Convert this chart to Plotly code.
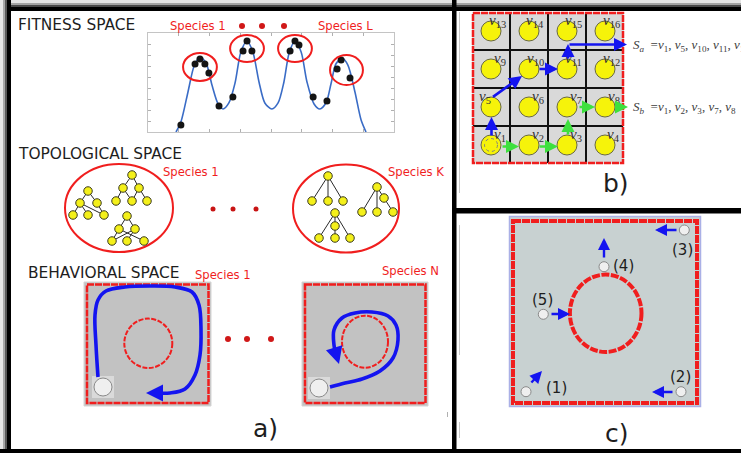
import plotly.graph_objects as go

W, H = 741, 453

# ---------------- fitness landscape (axis units: x 0..8, y 0..9) ----------------
FIT_CURVE_X = [0.91, 1.07, 1.30, 1.50, 1.69, 1.89, 2.08, 2.28, 2.44, 2.63, 2.83, 3.02,
               3.22, 3.41, 3.61, 3.80, 4.03, 4.23, 4.42, 4.59, 4.78, 4.98, 5.17, 5.40,
               5.59, 5.79, 5.95, 6.11, 6.31, 6.50, 6.73, 6.93, 7.09]
FIT_CURVE_Y = [0.00, 0.91, 3.64, 6.00, 6.82, 6.27, 4.27, 2.55, 2.09, 2.64, 4.45, 7.27,
               8.27, 7.27, 4.55, 2.64, 2.09, 2.64, 4.55, 7.18, 8.27, 7.27, 4.55, 2.55,
               2.09, 2.64, 4.36, 6.18, 6.73, 6.09, 3.64, 1.09, 0.00]
FIT_POP_X = [1.07, 1.53, 1.69, 1.85, 1.98, 2.31, 2.76, 3.09, 3.22, 3.38,
             4.62, 4.78, 4.91, 5.37, 5.82, 6.15, 6.28, 6.57]
FIT_POP_Y = [0.64, 6.18, 6.64, 6.18, 5.36, 2.36, 3.18, 7.36, 8.27, 7.36,
             7.36, 8.27, 7.91, 3.18, 2.82, 5.73, 6.55, 4.91]
# species clusters (x0, x1, y0, y1)
FIT_SPECIES = [(1.14, 2.24, 4.64, 7.18), (2.67, 3.77, 6.36, 8.82),
               (4.23, 5.33, 6.36, 8.82), (5.92, 6.99, 4.27, 7.00)]

# ---------------- topological space: small trees ----------------
TREES = [
    {"nodes": [(88, 191), (80, 203), (97, 203), (73, 215), (88, 215), (104, 215)],
     "edges": [(0, 1), (0, 2), (1, 3), (1, 4), (1, 5), (2, 5)]},
    {"nodes": [(132, 175), (123, 188), (139, 188), (116, 201), (132, 201), (147, 201)],
     "edges": [(0, 1), (0, 2), (1, 3), (1, 4), (2, 4), (2, 5)]},
    {"nodes": [(127, 216), (119, 229), (135, 229), (112, 241), (127, 241), (144, 241)],
     "edges": [(0, 1), (0, 2), (1, 3), (1, 5), (2, 3), (2, 4)]},
    {"nodes": [(328, 176), (312, 201), (328, 201), (343, 201)],
     "edges": [(0, 1), (0, 2), (0, 3)]},
    {"nodes": [(377, 187), (362, 212), (377, 212), (384, 198), (393, 212)],
     "edges": [(0, 1), (0, 2), (0, 3), (3, 4)]},
    {"nodes": [(335, 213), (335, 226), (319, 238), (335, 238), (350, 238)],
     "edges": [(0, 1), (0, 2), (1, 3), (0, 4)]},
]

# ---------------- behavioral space: robot trajectories ----------------
PATH1_X = [98, 96, 95, 98, 106, 125, 150, 175, 192, 199, 201, 200, 195, 185, 170, 156]
PATH1_Y = [377, 345, 315, 300, 291, 287, 286, 287, 292, 305, 330, 355, 375, 389, 393, 393]
PATH2_X = [330, 345, 362, 380, 393, 398, 396, 388, 372, 355, 342, 334, 334, 336]
PATH2_Y = [387, 383, 379, 371, 358, 340, 325, 316, 312, 313, 318, 330, 345, 356]

# ---------------- grid maze ----------------
GRID_LABELS = [[13, 14, 15, 16], [9, 10, 11, 12], [5, 6, 7, 8], [1, 2, 3, 4]]
SEQ_A = [1, 5, 10, 11, 15]
SEQ_B = [1, 2, 3, 7, 8]

# ---------------- hard maze: starting points ----------------
START_LABELS = ["(1)", "(2)", "(3)", "(4)", "(5)"]

RED = "#f01e1e"
BLUE = "#1414f0"
GREEN = "#3ee03e"
YELLOW = "#f4f01a"

shapes = []
annotations = []
traces = []


def rect(x0, y0, x1, y1, fill=None, lc=None, lw=0, dash=None, layer="below"):
    shapes.append(dict(type="rect", xref="x", yref="y", x0=x0, y0=y0, x1=x1, y1=y1,
                       fillcolor=fill or "rgba(0,0,0,0)",
                       line=dict(color=lc or "rgba(0,0,0,0)", width=lw, dash=dash or "solid"),
                       layer=layer))


def ellipse(cx, cy, rx, ry, lc, lw, fill=None, dash=None, xref="x", yref="y", layer="below"):
    shapes.append(dict(type="circle", xref=xref, yref=yref, x0=cx - rx, x1=cx + rx,
                       y0=cy - ry, y1=cy + ry, fillcolor=fill or "rgba(0,0,0,0)",
                       line=dict(color=lc, width=lw, dash=dash or "solid"), layer=layer))


def line(x0, y0, x1, y1, color, width, layer="below"):
    shapes.append(dict(type="line", xref="x", yref="y", x0=x0, y0=y0, x1=x1, y1=y1,
                       line=dict(color=color, width=width), layer=layer))


def text(x, y, s, size, color="#1e1e1e", anchor="left", family="DejaVu Sans"):
    annotations.append(dict(x=x, y=y, xref="x", yref="y", text=s, showarrow=False,
                            xanchor=anchor, yanchor="middle",
                            font=dict(family=family, size=size, color=color)))


def arrow(x0, y0, x1, y1, color, width, head=2):
    annotations.append(dict(x=x1, y=y1, ax=x0, ay=y0, xref="x", yref="y",
                            axref="x", ayref="y", text="", showarrow=True,
                            arrowhead=head, arrowsize=1, arrowwidth=width,
                            arrowcolor=color, standoff=0, startstandoff=0))


def dots(xs, ys, color, size):
    traces.append(go.Scatter(x=xs, y=ys, mode="markers", xaxis="x", yaxis="y",
                             marker=dict(color=color, size=size), hoverinfo="skip"))


def robot(cx, cy, r, pad=True):
    if pad:
        rect(cx - r - 2, cy - r - 2, cx + r + 2, cy + r + 2, fill="#dadada")
    ellipse(cx, cy, r, r, "#8a8a8a", 1, fill="#efefef")


# ---------------- frame ----------------
rect(0, 0, W, 3, fill="#e4e4e4")
rect(0, 3, W, 5, fill="#a4a4a4")
rect(0, 5, W, 7, fill="#4a4a4a")
rect(0, 7, W, 11, fill="#000000")
rect(0, 0, 3, H, fill="#e6e6e6")
rect(3, 0, 5, H, fill="#a8a8a8")
rect(5, 0, 7, H, fill="#5a5a5a")
rect(7, 0, 11, H, fill="#000000")
rect(0, 449, W, H, fill="#000000")
rect(452, 0, 456.5, H, fill="#000000")
rect(456, 208, W, 213.5, fill="#000000")
line(459.5, 12, 459.5, 193, "#c8c8c8", 1)
line(459.5, 225, 459.5, 355, "#c8c8c8", 1)
line(459.5, 422, 459.5, 438, "#c8c8c8", 1)
line(447.5, 412, 447.5, 417, "#b0b0b0", 1)

# ---------------- panel a: fitness ----------------
text(16, 25, "FITNESS SPACE", 15.4)
text(168, 26, "Species 1", 11.6, RED)
text(316, 26, "Species L", 11.6, RED)
dots([242, 262, 284], [26, 26, 26], "#d01818", 6)

traces.append(go.Scatter(x=FIT_CURVE_X, y=FIT_CURVE_Y, mode="lines", xaxis="x2", yaxis="y2",
                         line=dict(color="#3a6cc6", width=1.6, shape="spline", smoothing=0.8),
                         hoverinfo="skip"))
traces.append(go.Scatter(x=FIT_POP_X, y=FIT_POP_Y, mode="markers", xaxis="x2", yaxis="y2",
                         marker=dict(color="#141414", size=7), hoverinfo="skip"))
for (x0, x1, y0, y1) in FIT_SPECIES:
    shapes.append(dict(type="circle", xref="x2", yref="y2", x0=x0, x1=x1, y0=y0, y1=y1,
                       line=dict(color=RED, width=2), layer="above"))

# ---------------- panel a: topology ----------------
text(16, 154, "TOPOLOGICAL SPACE", 15.4)
text(161, 172, "Species 1", 11.6, RED)
text(386, 172, "Species K", 11.6, RED)
ellipse(119, 208, 54, 44, RED, 2)
ellipse(346, 208.5, 53, 44, RED, 2)
dots([213, 233, 256], [209, 209, 209], "#c81414", 5)
ex, ey, nx, ny = [], [], [], []
for t in TREES:
    for a, b in t["edges"]:
        ex += [t["nodes"][a][0], t["nodes"][b][0], None]
        ey += [t["nodes"][a][1], t["nodes"][b][1], None]
    nx += [p[0] for p in t["nodes"]]
    ny += [p[1] for p in t["nodes"]]
traces.append(go.Scatter(x=ex, y=ey, mode="lines", xaxis="x", yaxis="y",
                         line=dict(color="#2a2a2a", width=1), hoverinfo="skip"))
traces.append(go.Scatter(x=nx, y=ny, mode="markers", xaxis="x", yaxis="y",
                         marker=dict(color=YELLOW, size=8.5, line=dict(color="#3a3a20", width=1)),
                         hoverinfo="skip"))

# ---------------- panel a: behavior ----------------
text(26, 273, "BEHAVIORAL SPACE", 15.4)
text(193, 275, "Species 1", 11.6, RED)
text(380, 271, "Species N", 11.6, RED)
for (bx0, by0, bx1, by1, ccx, ccy, crx, cry) in [(84, 282, 211, 406, 148.3, 343.3, 24, 24.7),
                                              (302, 282, 428, 406, 365, 341.7, 23, 26)]:
    rect(bx0, by0, bx1, by1, fill="#c2c2c2", lc="#d4d4d4", lw=1)
    rect(bx0 + 3, by0 + 2.5, bx1 - 2.5, by1 - 3, lc=RED, lw=2.5, dash="7px,1px")
    ellipse(ccx, ccy, crx, cry, RED, 2, dash="5px,1.5px")
dots([228, 247, 271], [339, 339, 339], "#d01818", 6)
robot(103, 387, 9)
robot(319, 388, 9)
traces.append(go.Scatter(x=PATH1_X, y=PATH1_Y, mode="lines", xaxis="x", yaxis="y",
                         line=dict(color=BLUE, width=3.6, shape="spline"), hoverinfo="skip"))
traces.append(go.Scatter(x=PATH2_X, y=PATH2_Y, mode="lines", xaxis="x", yaxis="y",
                         line=dict(color=BLUE, width=3.6, shape="spline"), hoverinfo="skip"))
arrow(157, 393, 146, 393, BLUE, 3.4)
arrow(336, 354, 339, 364, BLUE, 3.4)
text(265, 428, "a)", 25, anchor="center")

# ---------------- panel b: grid maze ----------------
gx0, gx1, gy0, gy1 = 472, 624, 12, 164
rect(gx0, gy0, gx1, gy1, fill="#d9d9d9")
step = (gx1 - gx0) / 4
for i in range(1, 4):
    line(gx0 + i * step, gy0 + 1, gx0 + i * step, gy1 - 1, "#111111", 2)
    line(gx0 + 1, gy0 + i * step, gx1 - 1, gy0 + i * step, "#111111", 2)
rect(gx0 + 1, gy0 + 1, gx1 - 1, gy1 - 1, lc=RED, lw=2.5, dash="7px,1px")
cx_list, cy_list = [], []
for r, row in enumerate(GRID_LABELS):
    for c, lab in enumerate(row):
        cx = gx0 + (c + 0.5) * step
        cy = gy0 + (r + 0.5) * step
        cx_list.append(cx)
        cy_list.append(cy)
        if lab == 5:
            lx, anchor = gx0 + c * step + 5, "left"
        else:
            lx, anchor = gx0 + (c + 1) * step - 2, "right"
        text(lx, gy0 + r * step + 9, "<i>v</i><sub>%d</sub>" % lab, 15, "#303030",
             anchor=anchor, family="Liberation Serif")
traces.append(go.Scatter(x=cx_list, y=cy_list, mode="markers", xaxis="x", yaxis="y",
                         marker=dict(color="#f6f30a", size=20, line=dict(color="#6a6a40", width=1)),
                         hoverinfo="skip"))
ellipse(491, 145, 6.5, 6.5, "#808080", 1, dash="dot", layer="above")

# S_a (blue) and S_b (green) sequences
arrow(491.5, 137, 491.5, 117, BLUE, 2.6)
arrow(491.5, 98, 522, 76, BLUE, 2.6)
arrow(538, 69, 558, 69, BLUE, 2.6)
arrow(568, 60, 568, 44, BLUE, 2.6)
arrow(568, 44.5, 627, 44.5, BLUE, 2.6)
arrow(501, 146.5, 519, 146.5, GREEN, 2.6)
arrow(538, 146.5, 558, 146.5, GREEN, 2.6)
arrow(568, 136, 568, 119, GREEN, 2.6)
arrow(578, 107, 595, 107, GREEN, 2.6)
arrow(615, 107, 628, 107, GREEN, 2.6)


def seq_text(name, seq):
    parts = ", ".join("<i>v</i><sub>%d</sub>" % s for s in seq)
    return "<i>S</i><sub><i>%s</i></sub>  =%s" % (name, parts)


text(631, 45, seq_text("a", SEQ_A), 13, "#404040", family="Liberation Serif")
text(631, 107, seq_text("b", SEQ_B), 13, "#404040", family="Liberation Serif")
text(616, 183, "b)", 25, anchor="center")

# ---------------- panel c: hard maze ----------------
rect(509.5, 216.5, 700.5, 406.5, fill="#c8d1d1", lc="#aab0e6", lw=1.5)
rect(513, 221, 697, 403, lc=RED, lw=4, dash="8px,1px")
ellipse(605.7, 313.3, 35.8, 38.7, RED, 4, dash="8px,1.5px")
STARTS = [(526, 391.7), (681, 391.7), (684.3, 230), (604, 266.7), (543.3, 314.3)]
ARROWS = [((530, 384), (542, 371)), ((674, 392), (652, 392)), ((678, 230), (655, 230)),
          ((604, 259), (604, 238)), ((550, 314), (570, 314))]
LABEL_POS = [(556.7, 388.3), (680, 376.7), (682.3, 250), (623.3, 265.7), (542.7, 300)]
for (sx, sy), ((ax0, ay0), (ax1, ay1)), (lx, ly), lab in zip(STARTS, ARROWS, LABEL_POS, START_LABELS):
    robot(sx, sy, 5, pad=False)
    arrow(ax0, ay0, ax1, ay1, BLUE, 2.4)
    text(lx, ly, lab, 15, "#1e1e1e", anchor="center")
text(617, 433, "c)", 25, anchor="center")

fig = go.Figure(traces)
fig.update_layout(
    width=W, height=H, margin=dict(l=0, r=0, t=0, b=0),
    paper_bgcolor="white", plot_bgcolor="rgba(0,0,0,0)", showlegend=False,
    xaxis=dict(range=[0, W], domain=[0, 1], visible=False, fixedrange=True),
    yaxis=dict(range=[H, 0], domain=[0, 1], visible=False, fixedrange=True),
    xaxis2=dict(range=[0, 8], domain=[148 / W, 394 / W], anchor="y2",
                showline=True, linecolor="#c4c4c4", linewidth=1, mirror="ticks",
                ticks="inside", ticklen=3, tickcolor="#b0b0b0",
                tickvals=[1, 2, 3, 4, 5, 6, 7], showticklabels=False,
                showgrid=False, zeroline=False, fixedrange=True),
    yaxis2=dict(range=[0, 9], domain=[(H - 132) / H, (H - 33) / H], anchor="x2",
                showline=True, linecolor="#c4c4c4", linewidth=1, mirror="ticks",
                ticks="inside", ticklen=3, tickcolor="#b0b0b0",
                tickvals=[1, 2, 3, 4, 5, 6, 7, 8], showticklabels=False,
                showgrid=False, zeroline=False, fixedrange=True),
    shapes=shapes, annotations=annotations,
)
fig.write_html("out.html")
